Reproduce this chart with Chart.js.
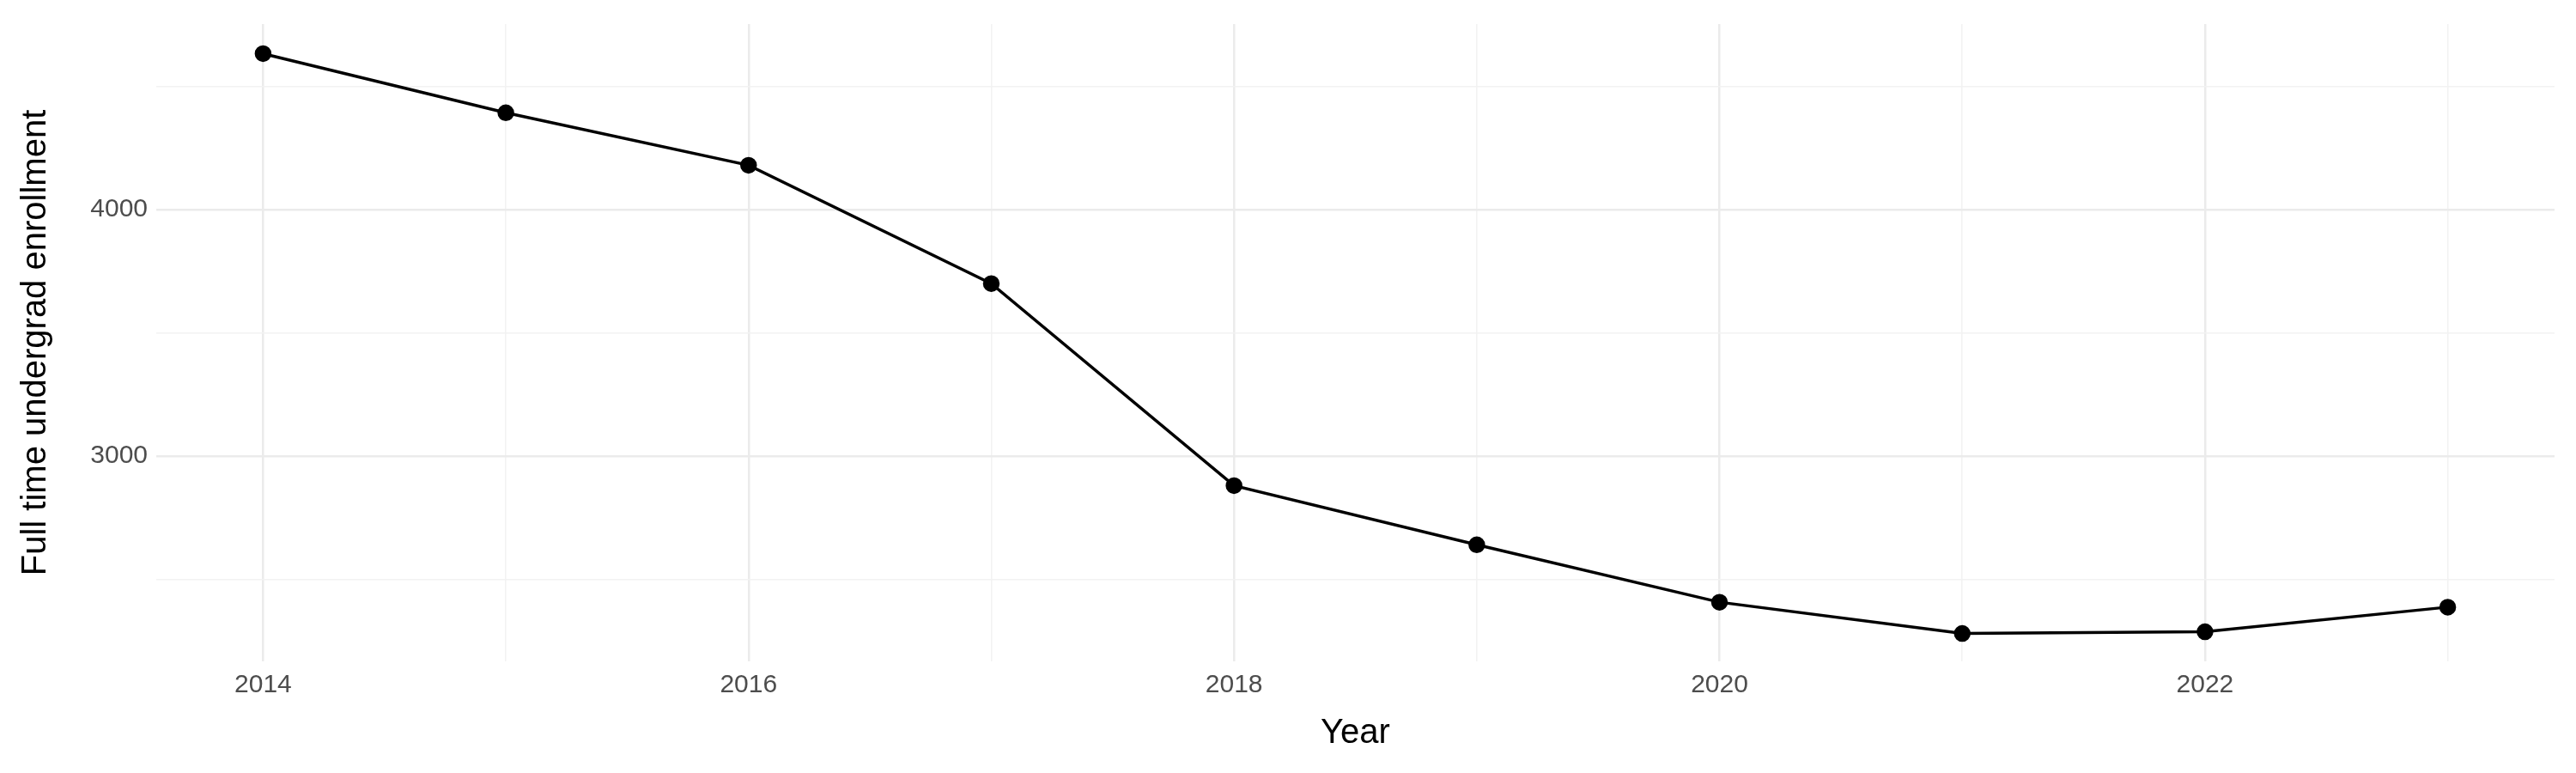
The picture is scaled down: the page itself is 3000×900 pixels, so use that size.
<!DOCTYPE html>
<html><head><meta charset="utf-8">
<script src="https://cdn.jsdelivr.net/npm/chart.js@4"></script>
<style>html,body{margin:0;padding:0;background:#fff}#w{width:3000px;height:900px}</style>
</head><body><div id="w"><canvas id="c"></canvas></div>
<script>
const years = [2014,2015,2016,2017,2018,2019,2020,2021,2022,2023];
const enrollment = [4633,4393,4180,3700,2880,2640,2407,2280,2287,2387];
const xTicks = [2014,2015,2016,2017,2018,2019,2020,2021,2022,2023];
const xLabels = [2014,2016,2018,2020,2022];
const yTicks = [2500,3000,3500,4000,4500];
const yLabels = [3000,4000];
const font = "'Liberation Sans', Arial, sans-serif";
new Chart(document.getElementById('c'), {
  type: 'line',
  data: { datasets: [{ data: years.map((y,i)=>({x:y,y:enrollment[i]})),
    borderColor:'#000', backgroundColor:'#000', borderWidth:3.5, pointRadius:8, pointHoverRadius:8, tension:0 }] },
  options: {
    responsive:true, maintainAspectRatio:false, animation:false,
    layout:{padding:{left:14,right:25,top:23,bottom:18}},
    plugins:{legend:{display:false},tooltip:{enabled:false}},
    scales:{
      x:{ type:'linear', min:2013.56, max:2023.44,
        afterBuildTicks:a=>{a.ticks=xTicks.map(v=>({value:v}));},
        ticks:{autoSkip:false, maxRotation:0, padding:10, color:'#4d4d4d', font:{family:font,size:30},
          callback:v=>xLabels.includes(v)?String(v):''},
        grid:{color:c=>xLabels.includes(c.tick&&c.tick.value)?'#ebebeb':'#f2f2f2',
          lineWidth:c=>xLabels.includes(c.tick&&c.tick.value)?2.5:1.5, drawTicks:false},
        border:{display:false},
        title:{display:true,text:'Year',color:'#000',font:{family:font,size:40},padding:{top:4}}
      },
      y:{ min:2167, max:4753,
        afterBuildTicks:a=>{a.ticks=yTicks.map(v=>({value:v}));},
        ticks:{autoSkip:false, padding:10, color:'#4d4d4d', font:{family:font,size:30},
          callback:v=>yLabels.includes(v)?String(v):''},
        afterFit:a=>{a.width=168;},
        grid:{color:c=>yLabels.includes(c.tick&&c.tick.value)?'#ebebeb':'#f2f2f2',
          lineWidth:c=>yLabels.includes(c.tick&&c.tick.value)?2.5:1.5, drawTicks:false},
        border:{display:false},
        title:{display:true,text:'Full time undergrad enrollment',color:'#000',font:{family:font,size:40},padding:{bottom:6}}
      }
    }
  }
});
</script></body></html>
